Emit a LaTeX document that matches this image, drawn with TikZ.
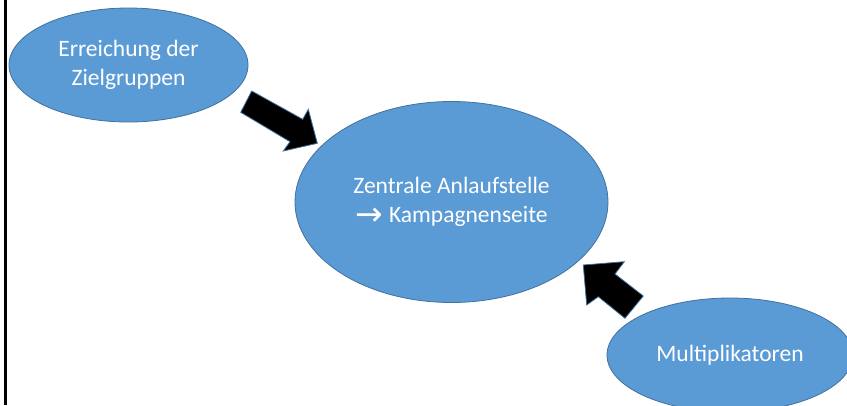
\documentclass[tikz,border=0pt]{standalone}
\usepackage{fontspec}
\usepackage{graphicx}
\setmainfont{Carlito}
\newfontfamily\symfont{DejaVu Sans}
\usetikzlibrary{shapes.geometric}
\definecolor{fillblue}{HTML}{5B9BD5}
\definecolor{edgeblue}{HTML}{41719C}
\begin{document}
\begin{tikzpicture}[x=1pt,y=-1pt,
  bubble/.style={ellipse, fill=fillblue, draw=edgeblue, line width=0.8pt,
    text=white, align=center, inner sep=0pt,
    font=\fontsize{23.5}{29}\selectfont},
  blockarrow/.style={fill=black, draw=edgeblue, line width=0.8pt, line join=miter}]
\useasboundingbox (0,0) rectangle (847,405);
\clip (0,0) rectangle (847,405);
\node[bubble, minimum width=239pt, minimum height=114pt] (reach) at (128.5,65)
  {Erreichung der\\Zielgruppen};
\node[bubble, minimum width=313pt, minimum height=201pt] (hub) at (451.5,202)
  {Zentrale Anlaufstelle\\\raisebox{-3pt}{\scalebox{1.5}{\symfont\fontsize{22}{29}\selectfont →}}\hspace{6pt}Kampagnenseite};
\node[bubble, minimum width=246pt, minimum height=114pt] (multi) at (730,355)
  {Multiplikatoren};
% block arrow from top-left bubble to hub
\fill[blockarrow] (251.7,91) -- (302.7,119.3) -- (308.3,109.3) -- (317.3,143.3)
  -- (283.3,151) -- (290,141.7) -- (240.7,112.3) -- cycle;
% block arrow from bottom-right bubble to hub
\fill[blockarrow] (583.3,265) -- (624.3,261.7) -- (615,274) -- (643.3,296)
  -- (625,318.3) -- (598.3,296.7) -- (586.7,305) -- cycle;
% left frame line
\draw[line width=2.5pt] (5.5,0) -- (5.5,405);
\end{tikzpicture}
\end{document}
